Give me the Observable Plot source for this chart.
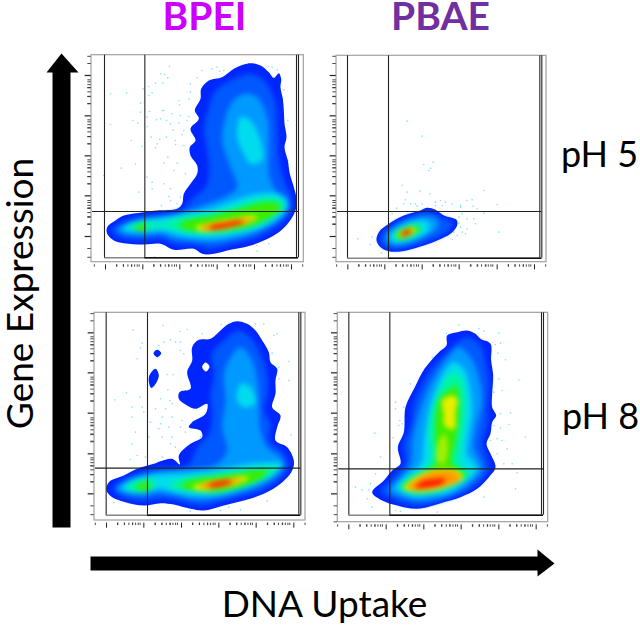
<!DOCTYPE html>
<html><head><meta charset="utf-8">
<script src="https://cdn.jsdelivr.net/npm/d3@7"></script>
<script src="https://cdn.jsdelivr.net/npm/@observablehq/plot@0.6"></script>
<style>
html,body{margin:0;padding:0;background:#fff}
#chart{position:relative;width:640px;height:627px;overflow:hidden}
#chart svg{position:absolute;overflow:visible;background:transparent}
</style></head><body><div id="chart"></div>
<script>
const levelColors = ["#0026ff","#0058ff","#0099ff","#00dcee","#00f5a0","#3cec00","#e8ee00","#ff9a00","#ff1a00","#ffffff","#a4ee00"];
const dotColor = "#7fe0ff";

// Channel units (instrument scale). Each contour: [level, points]
const bpei5Contours = [
[0,[[510,68],[540,75],[565,95],[580,112],[595,98],[602,115],[600,140],[607,175],[610,210],[612,250],[618,290],[612,320],[622,360],[628,400],[640,440],[648,475],[645,510],[625,545],[595,575],[550,600],[500,618],[450,628],[400,640],[365,640],[340,625],[280,628],[240,610],[190,612],[130,608],[100,600],[80,580],[80,560],[105,540],[130,525],[190,515],[230,510],[290,505],[305,490],[310,460],[330,430],[350,400],[350,375],[330,345],[328,320],[345,300],[330,265],[355,235],[343,210],[360,175],[362,145],[385,120],[425,110],[460,85],[490,72]]],
[1,[[510,100],[555,125],[585,190],[590,280],[595,360],[610,420],[632,470],[630,510],[605,545],[570,570],[520,595],[450,612],[390,625],[350,615],[290,612],[240,595],[190,598],[135,595],[100,580],[95,565],[125,545],[170,530],[230,522],[300,510],[340,470],[375,440],[385,390],[380,330],[370,270],[385,200],[405,150],[450,120]]],
[2,[[490,160],[530,170],[560,230],[565,330],[565,400],[585,450],[615,470],[625,500],[600,535],[560,560],[500,585],[440,600],[380,605],[330,600],[280,595],[240,580],[190,585],[135,582],[110,568],[135,550],[180,535],[240,528],[310,515],[380,490],[440,465],[470,440],[450,380],[425,300],[435,230],[455,185]]],
[3,[[480,230],[510,240],[540,300],[545,360],[510,370],[490,340],[470,290]]],
[3,[[590,460],[620,480],[615,510],[590,535],[540,565],[480,580],[420,590],[360,592],[300,585],[250,572],[190,575],[140,572],[125,565],[150,548],[190,538],[250,530],[320,518],[390,505],[460,480],[530,460]]],
[4,[[580,472],[610,488],[605,510],[570,535],[520,560],[460,572],[400,580],[340,580],[290,570],[250,560],[190,565],[150,565],[140,562],[165,548],[210,545],[240,550],[300,530],[390,518],[470,495],[530,475]]],
[5,[[570,485],[600,495],[585,520],[535,548],[460,568],[390,575],[330,570],[295,555],[320,540],[400,525],[480,505],[530,490]]],
[5,[[165,560],[180,552],[198,556],[195,570],[175,572]]],
[6,[[520,525],[530,530],[510,545],[460,560],[400,572],[360,572],[345,560],[380,548],[450,535]]],
[7,[[500,535],[520,533],[495,548],[440,560],[395,568],[365,566],[365,558],[400,548],[450,540]]],
[8,[[480,540],[490,545],[460,556],[410,566],[385,565],[395,555],[430,548]]]
];
const pbae5Contours = [
[0,[[320,502],[345,508],[370,525],[408,538],[410,555],[390,580],[350,600],[300,618],[245,632],[205,632],[180,620],[168,600],[175,575],[205,550],[250,525],[300,510]]],
[1,[[325,515],[360,530],[395,545],[385,570],[340,595],[290,612],[240,625],[200,622],[180,605],[185,580],[215,555],[260,532]]],
[2,[[310,527],[350,535],[350,565],[310,590],[260,610],[220,615],[195,600],[200,578],[235,550],[270,535]]],
[3,[[290,540],[325,545],[325,570],[285,595],[240,607],[210,600],[210,580],[245,555]]],
[4,[[285,552],[305,555],[300,575],[265,593],[235,600],[218,592],[225,575],[255,558]]],
[5,[[280,557],[297,565],[280,582],[245,595],[228,590],[232,575],[255,560]]],
[6,[[275,562],[287,568],[270,583],[245,590],[233,585],[242,572]]],
[7,[[270,566],[280,570],[265,582],[245,588],[238,582],[248,572]]],
[8,[[265,568],[272,574],[260,582],[247,586],[243,580],[252,572]]]
];
const bpei8Contours = [
[0,[[470,62],[500,70],[525,90],[545,120],[565,155],[570,185],[590,205],[585,240],[585,280],[575,320],[600,345],[590,380],[585,420],[620,440],[640,480],[635,510],[600,550],[550,580],[490,600],[430,615],[370,630],[330,625],[280,612],[240,608],[190,615],[135,605],[95,590],[78,570],[85,545],[130,525],[170,505],[220,490],[240,482],[275,475],[298,492],[295,465],[330,430],[365,410],[360,390],[325,380],[335,365],[375,340],[380,310],[345,325],[320,315],[295,295],[297,275],[330,265],[320,215],[335,180],[335,140],[355,118],[390,115],[420,90],[445,70]]],
[0,[[230,148],[242,158],[230,170],[219,158]]],
[0,[[225,205],[235,225],[222,255],[212,262],[205,230]]],
[9,[[375,186],[387,198],[377,213],[365,200]]],
[1,[[475,90],[510,110],[540,160],[555,200],[560,280],[550,330],[570,370],[565,420],[600,450],[622,485],[615,515],[585,545],[530,575],[470,590],[410,605],[370,615],[330,610],[280,598],[240,595],[190,600],[130,590],[100,570],[110,550],[170,520],[230,505],[320,495],[350,440],[385,400],[395,340],[390,290],[400,220],[395,160],[430,120]]],
[2,[[480,140],[510,170],[530,240],[535,320],[540,390],[560,440],[600,470],[610,495],[590,525],[540,555],[470,580],[400,595],[350,598],[280,585],[235,578],[190,585],[130,578],[105,565],[130,545],[180,525],[250,510],[340,505],[410,490],[440,450],[425,380],[435,300],[430,220],[450,170]]],
[3,[[480,250],[510,260],[525,310],[490,320],[470,300]]],
[3,[[570,485],[605,490],[590,515],[540,545],[470,570],[400,585],[340,585],[280,575],[235,565],[190,575],[130,570],[125,560],[160,535],[210,525],[300,520],[400,510],[500,490]]],
[4,[[555,500],[590,500],[570,525],[520,550],[450,572],[380,578],[330,572],[280,565],[265,555],[300,535],[400,520],[500,505]]],
[4,[[140,560],[170,540],[215,535],[225,555],[200,575],[155,572]]],
[5,[[530,510],[560,510],[545,530],[490,555],[420,572],[360,572],[315,565],[300,555],[340,537],[430,525]]],
[5,[[170,555],[195,545],[210,555],[195,568],[175,568]]],
[6,[[490,528],[505,532],[480,548],[420,562],[365,570],[335,560],[370,545],[430,535]]],
[7,[[470,535],[485,538],[450,552],[400,563],[365,562],[358,555],[400,543]]],
[8,[[445,540],[455,545],[420,557],[385,558],[390,548],[420,542]]]
];
const pbae8Contours = [
[0,[[440,90],[465,100],[480,115],[510,130],[512,180],[518,225],[515,280],[515,320],[527,345],[515,365],[510,400],[498,430],[510,460],[525,500],[505,530],[470,565],[420,590],[370,605],[290,625],[230,615],[185,600],[155,575],[190,540],[215,510],[240,490],[232,440],[250,395],[255,320],[283,260],[312,205],[355,155],[378,135],[380,105],[410,95]]],
[1,[[440,110],[480,135],[495,190],[505,250],[500,320],[500,370],[485,430],[500,480],[505,505],[480,540],[440,570],[380,595],[290,615],[230,600],[195,585],[180,572],[210,540],[235,512],[255,490],[250,430],[270,380],[280,310],[300,265],[330,210],[385,150],[410,125]]],
[2,[[415,140],[450,170],[475,230],[485,310],[470,370],[460,440],[485,500],[460,540],[410,575],[350,595],[290,600],[230,585],[205,570],[240,530],[270,490],[275,420],[295,340],[320,270],[350,215],[385,165]]],
[3,[[400,185],[430,205],[448,260],[455,330],[445,400],[440,460],[470,505],[440,540],[385,575],[330,585],[280,590],[240,575],[225,560],[250,530],[300,490],[310,420],[320,350],[340,280],[370,215]]],
[4,[[400,215],[425,240],[435,300],[430,380],[420,450],[420,490],[450,515],[430,540],[380,565],[320,580],[280,580],[240,562],[265,530],[310,505],[330,470],[325,400],[335,330],[355,270]]],
[5,[[405,255],[415,290],[415,360],[405,420],[395,490],[425,510],[430,530],[380,560],[310,575],[270,573],[245,560],[280,530],[320,510],[345,490],[345,420],[345,350],[360,290],[385,270]]],
[10,[[372,400],[382,430],[372,490],[350,485],[355,420]]],
[6,[[395,285],[412,300],[405,330],[402,385],[385,385],[370,370],[370,340],[365,300]]],
[6,[[370,505],[410,510],[428,535],[400,552],[340,570],[280,573],[250,565],[270,540],[320,512]]],
[7,[[375,510],[405,515],[420,535],[390,552],[330,565],[280,568],[262,560],[290,535],[330,515]]],
[8,[[345,535],[375,535],[365,550],[320,562],[285,560],[300,545]]]
];

// Sparse events outside the density contours
const bpei5Events = [[267,78],[240,100],[253,102],[262,112],[247,128],[225,128],[205,138],[188,145],[215,157],[205,165],[90,160],[138,158],[180,188],[330,155],[325,175],[295,180],[297,193],[245,210],[250,210],[180,215],[207,213],[275,220],[300,225],[325,228],[200,230],[228,238],[240,235],[258,240],[157,240],[172,248],[90,252],[200,258],[270,250],[295,248],[320,240],[278,268],[310,270],[212,290],[238,296],[258,290],[285,300],[305,282],[152,300],[230,310],[225,322],[185,318],[285,312],[310,315],[262,350],[165,370],[122,383],[250,367],[290,368],[280,390],[315,400],[200,410],[215,425],[250,430],[270,445],[175,455],[215,445],[300,470],[265,468],[243,495],[270,480],[290,490],[410,80],[395,85],[418,92],[565,78],[575,80],[590,88],[610,148],[622,240],[622,360],[565,610],[530,632],[530,615],[222,650],[365,90],[350,112],[330,130],[70,405],[430,90],[600,120]];
const pbae5Events = [[260,242],[305,287],[338,365],[310,372],[330,383],[325,390],[245,435],[260,455],[298,452],[328,460],[490,450],[530,492],[535,575],[112,595],[270,490],[285,490],[290,497],[305,490],[345,485],[360,480],[375,485],[345,495],[365,495],[420,495],[440,480],[455,478],[458,497],[395,490],[420,500],[470,505],[490,518],[425,520],[415,530],[440,535],[460,535],[465,550],[415,548],[420,560],[440,565],[425,575],[435,580],[395,597],[228,503],[250,490],[155,590],[150,612],[183,637],[215,520],[255,478],[400,575],[410,585]];
const bpei8Events = [[248,75],[158,88],[185,128],[180,142],[298,93],[320,87],[422,72],[365,100],[525,70],[550,70],[590,100],[580,105],[250,125],[270,118],[285,125],[300,125],[235,135],[300,150],[310,160],[170,175],[575,158],[625,183],[595,200],[260,222],[278,222],[625,240],[595,235],[138,277],[262,268],[178,290],[103,298],[240,295],[268,300],[275,310],[155,320],[185,320],[190,335],[225,325],[255,325],[155,350],[245,350],[210,365],[240,370],[275,350],[305,360],[235,385],[265,380],[300,380],[165,395],[245,410],[315,395],[155,430],[205,410],[270,430],[275,410],[360,410],[632,403],[150,477],[170,465],[195,470],[245,470],[285,440],[100,607],[330,632],[420,630],[480,628],[560,602],[445,620]];
const pbae8Events = [[415,73],[475,85],[490,92],[378,100],[535,98],[525,132],[540,128],[532,158],[555,178],[335,170],[535,235],[595,238],[270,250],[545,270],[520,275],[225,305],[225,325],[250,320],[238,360],[245,370],[235,375],[540,340],[570,337],[520,375],[540,382],[565,372],[163,398],[218,412],[615,410],[530,415],[545,420],[510,420],[180,470],[530,460],[560,445],[550,490],[575,490],[590,517],[165,520],[150,550],[125,568],[145,568],[105,560],[140,595],[155,620],[225,630],[490,590],[585,565],[350,635],[240,632]];

// Decade tick positions and gates in channel units
const bpei5Axis = {xMajor:[75,187,298,410,522,633], yMajor:[105,226,346,466,588], frame:[33,670,44,665], gateX:[72,193,648,654], gateY:[513,652], labelX:38};
const pbae5Axis = {xMajor:[82,193,305,416,530,642], yMajor:[105,226,346,466,588], frame:[48,678,46,665], gateX:[81,204,658,664], gateY:[513,653]};
const bpei8Axis = {xMajor:[78,190,303,415,527,640], yMajor:[97,217,338,460,580], frame:[42,675,37,660], gateX:[77,201,655,661], gateY:[503,644]};
const pbae8Axis = {xMajor:[85,197,310,422,535,647], yMajor:[97,217,338,460,580], frame:[52,683,37,665], gateX:[85,208,663,669], gateY:[505,644]};
const minorFractions = [-0.3,-0.52,-0.7,0.3,0.48,0.6,0.7,0.78,0.85,0.9];

const arrowUp = [[52,527],[70,527],[70,72],[78,72],[61,53],[46,72],[52,72]];
const arrowRight = [[90,556],[537,556],[537,549],[554,563],[537,576],[537,570],[90,570]];
const labels = [
 {text:"BPEI",x:204,y:17,size:39,weight:700,fill:"#cc00ff",rotate:0},
 {text:"PBAE",x:440,y:17,size:39,weight:700,fill:"#7030a0",rotate:0},
 {text:"pH 5",x:599,y:155,size:36,weight:400,fill:"#000",rotate:0},
 {text:"pH 8",x:600,y:417,size:36,weight:400,fill:"#000",rotate:0},
 {text:"Gene Expression",x:21,y:293,size:37,weight:400,fill:"#000",rotate:-90},
 {text:"DNA Uptake",x:324,y:605,size:37,weight:400,fill:"#000",rotate:0}
];

function panel(contours, events, axis, left, top) {
  const rows = contours.flatMap(([level, pts], i) => pts.map(([x, y]) => ({x, y, group: i, level, color: levelColors[level]})));
  const sharp = rows.filter(d => d.level === 0 || d.level === 9);
  const soft = rows.filter(d => d.level !== 0 && d.level !== 9);
  const [fx1, fx2, fy1, fy2] = axis.frame;
  const minorX = axis.xMajor.flatMap(m => minorFractions.map(f => m + f * 112)).filter(v => v > fx1 - 5 && v < fx2);
  const minorY = axis.yMajor.flatMap(m => minorFractions.map(f => m - f * 120)).filter(v => v > fy1 && v < fy2);
  const tickTop = fy2 + 8;
  const tickLeft = fx1 - 4;
  const line = {x: "x", y: "y", z: "group", fill: "color", stroke: "none", curve: "catmull-rom-closed"};
  const [g1, g2, g3, g4] = axis.gateX;
  const [h1, h2] = axis.gateY;
  const p = Plot.plot({
    width: 240, height: 240, margin: 0, axis: null,
    x: {domain: [0, 720], range: [0, 240]},
    y: {domain: [0, 720], range: [0, 240]},
    marks: [
      Plot.dot(events, {x: d => d[0], y: d => d[1], r: 0.8, fill: dotColor, stroke: "none"}),
      Plot.line(sharp, line),
      Plot.line(soft, {...line, imageFilter: "blur(2.5px)"}),
      Plot.rect([axis.frame], {x1: d => d[0], x2: d => d[1], y1: d => d[2], y2: d => d[3], fill: "none", stroke: "#a8a8a8", strokeWidth: 1.3}),
      Plot.ruleX(axis.xMajor, {y1: tickTop, y2: tickTop + 15, stroke: "#222", strokeWidth: 1}),
      Plot.ruleX(minorX, {y1: tickTop, y2: tickTop + 7, stroke: "#333", strokeWidth: 0.9}),
      Plot.ruleY(axis.yMajor, {x1: tickLeft - 15, x2: tickLeft + 3, stroke: "#222", strokeWidth: 1.2}),
      Plot.ruleY(minorY, {x1: tickLeft - 7, x2: tickLeft + 3, stroke: "#333", strokeWidth: 0.9}),
      Plot.ruleX([g1, g2, g3, g4], {y1: fy1, y2: h2, stroke: "#222", strokeWidth: 1.1}),
      Plot.ruleY([h1], {x1: fx1 + 3, x2: g4, stroke: "#222", strokeWidth: 1.1}),
      Plot.ruleY([h2], {x1: g1, x2: g4, stroke: "#333", strokeWidth: 0.9}),
      Plot.ruleY([h2], {x1: g2, x2: g4, stroke: "#111", strokeWidth: 1.5})
    ]
  });
  p.style.left = left + "px";
  p.style.top = top + "px";
  p.style.filter = "blur(0.35px)";
  return p;
}

const chart = document.getElementById("chart");
chart.append(
  panel(bpei5Contours, bpei5Events, bpei5Axis, 80, 40),
  panel(pbae5Contours, pbae5Events, pbae5Axis, 320, 40),
  panel(bpei8Contours, bpei8Events, bpei8Axis, 80, 300),
  panel(pbae8Contours, pbae8Events, pbae8Axis, 320, 300)
);

const arrowRows = [...arrowUp.map(([x, y]) => ({x, y, a: 0})), ...arrowRight.map(([x, y]) => ({x, y, a: 1}))];
const overlay = Plot.plot({
  width: 640, height: 627, margin: 0, axis: null,
  x: {domain: [0, 640], range: [0, 640]},
  y: {domain: [0, 627], range: [0, 627]},
  marks: [
    Plot.line(arrowRows, {x: "x", y: "y", z: "a", fill: "#000", stroke: "none", curve: "linear-closed"}),
    ...labels.map(l => Plot.text([l], {x: "x", y: "y", text: "text", fill: "fill", fontSize: l.size, fontWeight: l.weight, fontFamily: "Lato", rotate: l.rotate}))
  ]
});
overlay.style.left = "0";
overlay.style.top = "0";
chart.append(overlay);
</script></body></html>
